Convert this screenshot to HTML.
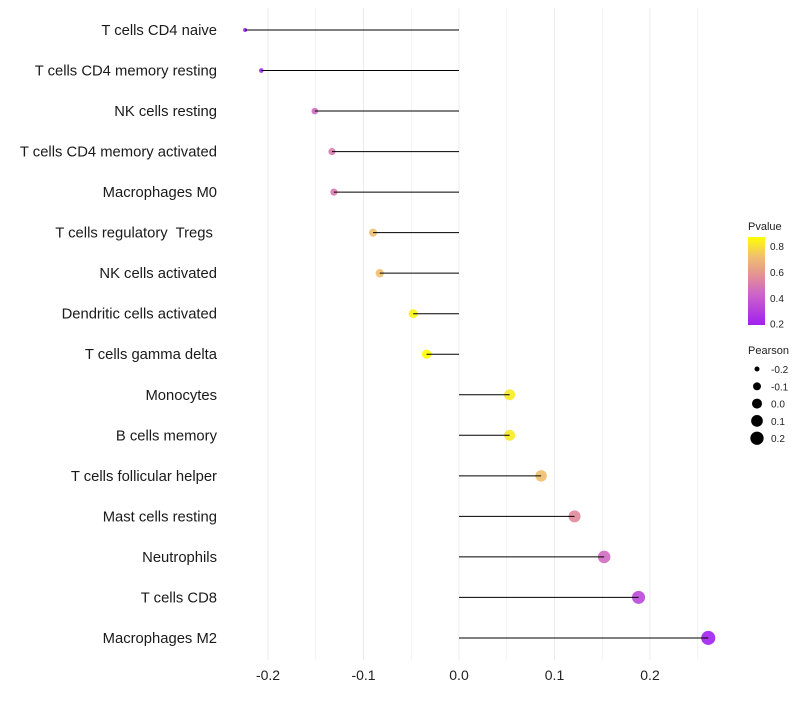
<!DOCTYPE html>
<html><head><meta charset="utf-8"><style>
body{margin:0;background:#fff;font-family:"Liberation Sans",sans-serif}
text{white-space:pre}
</style></head><body>
<svg id="chart" width="800" height="700" xmlns="http://www.w3.org/2000/svg" font-family="Liberation Sans, sans-serif"></svg>
<script>
const categories=["T cells CD4 naive","T cells CD4 memory resting","NK cells resting","T cells CD4 memory activated","Macrophages M0","T cells regulatory  Tregs ","NK cells activated","Dendritic cells activated","T cells gamma delta","Monocytes","B cells memory","T cells follicular helper","Mast cells resting","Neutrophils","T cells CD8","Macrophages M2"];
const pearson=[-0.224,-0.207,-0.151,-0.133,-0.131,-0.090,-0.083,-0.048,-0.034,0.053,0.053,0.086,0.121,0.152,0.188,0.261];
const pvalue=[0.2,0.24,0.45,0.5,0.5,0.72,0.72,0.84,0.87,0.82,0.82,0.72,0.55,0.45,0.33,0.19];
const xTicks=[-0.2,-0.1,0.0,0.1,0.2];
const xTickLabels=["-0.2","-0.1","0.0","0.1","0.2"];
const pTicks=[0.2,0.4,0.6,0.8];
const sizeLegend=[-0.2,-0.1,0.0,0.1,0.2];

const svg=document.getElementById('chart');
const NS='http://www.w3.org/2000/svg';
const x=v=>459+v*955;
const y=i=>30+i*40.53;
const r=v=>Math.sqrt(Math.max(1,4+94*(v+0.224)));
const pMin=0.19,pMax=0.87;
const stops=[[0,[160,32,240]],[0.35,[205,100,200]],[0.55,[226,142,150]],[0.78,[240,192,110]],[1,[255,255,0]]];
function col(p){let t=Math.max(0,Math.min(1,(p-pMin)/(pMax-pMin)));
 for(let k=1;k<stops.length;k++){if(t<=stops[k][0]){const [s0,a]=stops[k-1],[s1,b]=stops[k];const u=(t-s0)/(s1-s0);
  return `rgb(${a.map((c,i)=>Math.round(c+(b[i]-c)*u))})`;}}
 return 'rgb(255,255,0)';}
function el(tag,attrs,parent){const e=document.createElementNS(NS,tag);for(const k in attrs)e.setAttribute(k,attrs[k]);(parent||svg).appendChild(e);return e;}

for(let v=-0.2;v<=0.26;v+=0.05){const g=el('line',{x1:x(v),x2:x(v),y1:8,y2:660,stroke:'#ebebeb','stroke-width':Math.abs(Math.round(v*20))%2===0?1:0.6});

}
xTicks.forEach((v,i)=>{const t=el('text',{x:x(v),y:680,'text-anchor':'middle','font-size':14,fill:'#222'});t.textContent=xTickLabels[i];

});
categories.forEach((c,i)=>{
 const t=el('text',{x:217,y:y(i)+5,'text-anchor':'end','font-size':14.8,fill:'#1a1a1a'});t.textContent=c;
 
 
 const d=el('circle',{cx:x(pearson[i]),cy:y(i),r:r(pearson[i]),fill:col(pvalue[i]),'fill-opacity':0.9});
 
 
 const l=el('line',{x1:x(0),x2:x(pearson[i]),y1:y(i),y2:y(i),stroke:'#000','stroke-width':1});
 
 
});
const lt=el('text',{x:748,y:230,'font-size':11,fill:'#222'});lt.textContent='Pvalue';


const defs=el('defs',{});const gr=el('linearGradient',{id:'pg',x1:0,y1:1,x2:0,y2:0},defs);
stops.forEach(s=>el('stop',{offset:s[0],'stop-color':`rgb(${s[1]})`},gr));
const bar=el('rect',{x:748,y:237,width:17,height:88,fill:'url(#pg)'});


const py=p=>325-(p-pMin)/(pMax-pMin)*88;
pTicks.forEach(p=>{const t=el('text',{x:770,y:py(p)+4,'font-size':10,fill:'#222'});t.textContent=p.toFixed(1);

});
const st=el('text',{x:748,y:354,'font-size':11,fill:'#222'});st.textContent='Pearson';


sizeLegend.forEach((v,i)=>{const cy=369+i*17.3;
 const c=el('circle',{cx:757,cy:cy,r:r(v),fill:'#000'});
 
 
 const t=el('text',{x:771,y:cy+4,'font-size':10,fill:'#222'});t.textContent=v.toFixed(1);
 
 });
</script>
</body></html>
